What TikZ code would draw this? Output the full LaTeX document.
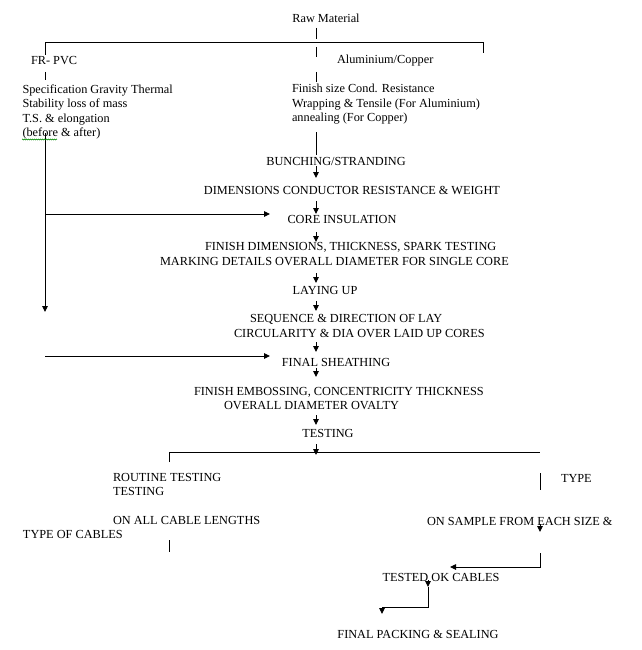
\documentclass[tikz,border=0pt]{standalone}
\usepackage{fontspec}
\setmainfont{Liberation Serif}
\usetikzlibrary{arrows.meta,decorations.pathmorphing}
\begin{document}
\begin{tikzpicture}[x=1pt,y=-1pt,
  txt/.style={inner sep=0pt,outer sep=0pt,font=\fontsize{12.3}{14.5}\selectfont},
  ln/.style={line width=0.9pt},
  arr/.style={line width=0.9pt,-{Triangle[length=6pt,width=5.5pt]}},
  wavy/.style={green!55!black,line width=0.5pt,decorate,decoration={zigzag,segment length=2pt,amplitude=0.6pt}}
]
\useasboundingbox (0,0) rectangle (641,650);
\fill[white] (0,0) rectangle (641,650);

% ---------- text nodes ----------
\node[txt] (raw) at (326,18.5) {Raw Material};
\node[txt,anchor=west] (frpvc) at (31,61) {FR- PVC};
\node[txt,anchor=west] (alcu) at (337,61) {Aluminium/Copper};
\node[txt,anchor=west,align=left] (spec) at (22.5,112) {Specification Gravity Thermal\\Stability loss of mass\\T.S. \& elongation\\(before \& after)};
\node[txt,anchor=west,align=left] (fin) at (292,104.5) {Finish size Cond. Resistance\\Wrapping \& Tensile (For Aluminium)\\annealing (For Copper)};
\node[txt] (bunch) at (336,161) {BUNCHING/STRANDING};
\node[txt] (dim) at (352,190.5) {DIMENSIONS CONDUCTOR RESISTANCE \& WEIGHT};
\node[txt] (core) at (342,219) {CORE INSULATION};
\node[txt,anchor=west,align=left] (fdim) at (160,254) {\hspace*{45pt}FINISH DIMENSIONS, THICKNESS, SPARK TESTING\\MARKING DETAILS OVERALL DIAMETER FOR SINGLE CORE};
\node[txt] (lay) at (325,290.5) {LAYING UP};
\node[txt,anchor=west,align=left] (seq) at (234,326) {\hspace*{16pt}SEQUENCE \& DIRECTION OF LAY\\CIRCULARITY \& DIA OVER LAID UP CORES};
\node[txt] (sheath) at (336,362) {FINAL SHEATHING};
\node[txt,anchor=west,align=left] (emb) at (194,398.5) {FINISH EMBOSSING, CONCENTRICITY THICKNESS\\\hspace*{30pt}OVERALL DIAMETER OVALTY};
\node[txt] (test) at (328,433) {TESTING};
\node[txt,anchor=west,align=left] (routine) at (113,484.5) {ROUTINE TESTING\\TESTING};
\node[txt,anchor=west,align=left] (onall) at (23,527.5) {\hspace*{90pt}ON ALL CABLE LENGTHS\\TYPE OF CABLES};
\node[txt,anchor=west] (type) at (561,478) {TYPE};
\node[txt,anchor=west] (sample) at (427,521) {ON SAMPLE FROM EACH SIZE \&};
\node[txt] (tested) at (441,577) {TESTED OK CABLES};
\node[txt] (pack) at (418,634) {FINAL PACKING \& SEALING};

% ---------- coordinates ----------
\coordinate (m1) at (316,28);  \coordinate (m2) at (316,39);
\coordinate (m3) at (316,47);  \coordinate (m4) at (316,57);
\coordinate (m5) at (316,72);  \coordinate (m6) at (316,82);
\coordinate (m7) at (316,132); \coordinate (m8) at (316,155);
\coordinate (tl) at (45,42.7); \coordinate (tr) at (483,42.7);
\coordinate (trd) at (483,53);
\coordinate (l1) at (45,55);   \coordinate (l2) at (45,72);
\coordinate (l3) at (45,80);   \coordinate (l4) at (45,133);
\coordinate (l5) at (45,312);
\coordinate (h1a) at (45,214); \coordinate (h1b) at (270,214);
\coordinate (h2a) at (45,356); \coordinate (h2b) at (270,356);
\coordinate (a1s) at (316,166); \coordinate (a1e) at (316,178);
\coordinate (a2s) at (316,201); \coordinate (a2e) at (316,214);
\coordinate (a3s) at (316,232); \coordinate (a3e) at (316,242);
\coordinate (a4s) at (316,273); \coordinate (a4e) at (316,283);
\coordinate (a5s) at (316,301); \coordinate (a5e) at (316,311);
\coordinate (a6s) at (316,342); \coordinate (a6e) at (316,352);
\coordinate (a7s) at (316,368); \coordinate (a7e) at (316,377);
\coordinate (a8s) at (316,415); \coordinate (a8e) at (316,425);
\coordinate (a9s) at (316,444); \coordinate (a9e) at (316,455);
\coordinate (bl) at (169,452);  \coordinate (br) at (540,452);
\coordinate (bld) at (169,462);
\coordinate (r1) at (540,473);  \coordinate (r2) at (540,490);
\coordinate (r3) at (540,524);  \coordinate (r4) at (540,532);
\coordinate (r5) at (540,553);  \coordinate (r6) at (540,567);
\coordinate (r7) at (450,567);
\coordinate (s1) at (169,540);  \coordinate (s2) at (169,552);
\coordinate (t1) at (428,580);  \coordinate (t2) at (428,587);
\coordinate (t3) at (428,607);  \coordinate (t4) at (382,607);
\coordinate (t5) at (382,614);
\coordinate (w1) at (22,139.5); \coordinate (w2) at (57,139.5);

% ---------- connectors ----------
\draw[ln] (m1) -- (m2);
\draw[ln] (m3) -- (m4);
\draw[ln] (m5) -- (m6);
\draw[ln] (m7) -- (m8);
\draw[ln] (l1) -- (tl) -- (tr) -- (trd);
\draw[ln] (l2) -- (l3);
\draw[arr] (l4) -- (l5);
\draw[arr] (h1a) -- (h1b);
\draw[arr] (h2a) -- (h2b);
\draw[arr] (a1s) -- (a1e);
\draw[arr] (a2s) -- (a2e);
\draw[arr] (a3s) -- (a3e);
\draw[arr] (a4s) -- (a4e);
\draw[arr] (a5s) -- (a5e);
\draw[arr] (a6s) -- (a6e);
\draw[arr] (a7s) -- (a7e);
\draw[arr] (a8s) -- (a8e);
\draw[arr] (a9s) -- (a9e);
\draw[ln] (bld) -- (bl) -- (br);
\draw[ln] (r1) -- (r2);
\draw[arr] (r3) -- (r4);
\draw[arr] (r5) -- (r6) -- (r7);
\draw[ln] (s1) -- (s2);
\draw[arr] (t1) -- (t2);
\draw[arr] (t2) -- (t3) -- (t4) -- (t5);
\draw[wavy] (w1) -- (w2);
\end{tikzpicture}
\end{document}
